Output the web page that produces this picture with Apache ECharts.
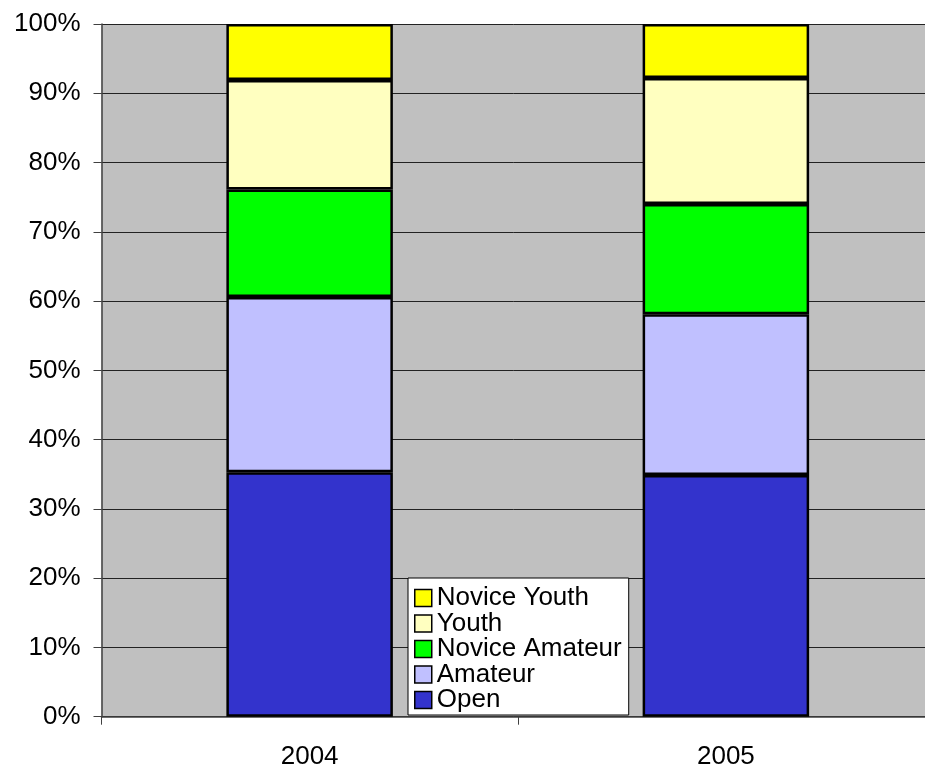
<!DOCTYPE html>
<html>
<head>
<meta charset="utf-8">
<script src="https://cdn.jsdelivr.net/npm/echarts@6/dist/echarts.min.js"></script>
<style>
  html, body { margin: 0; padding: 0; background: #fff; }
  #chart { width: 925px; height: 767px; }
</style>
</head>
<body>
<div id="chart"></div>
<script>
// share of each class per year, in percent
const years = ['2004', '2005']
const open = [35.3, 34.9]
const amateur = [25.3, 23.2]
const noviceAmateur = [15.5, 15.9]
const youth = [15.8, 18.2]
const noviceYouth = [8.1, 7.8]
const legendOrder = ['Novice Youth', 'Youth', 'Novice Amateur', 'Amateur', 'Open']

const font = '"Liberation Sans", Arial, sans-serif'

const chart = echarts.init(document.getElementById('chart'))

const makeSeries = (name, data, color) => ({
  name,
  type: 'bar',
  stack: 'total',
  barWidth: '40%',
  data,
  itemStyle: {
    color,
    borderColor: '#000',
    borderWidth: 2.5,
  },
})

chart.setOption({
  animation: false,
  // plot area runs a few px past the right edge, like the original
  grid: {
    left: 101.5,
    right: -9,
    top: 24,
    bottom: 50.3,
    outerBoundsMode: 'none',
    containLabel: false,
    show: true,
    backgroundColor: '#C0C0C0',
    borderWidth: 0,
  },
  legend: {
    data: legendOrder,
    orient: 'vertical',
    left: 408,
    top: 578,
    backgroundColor: '#fff',
    borderColor: '#000',
    borderWidth: 1,
    padding: [7, 7, 2, 6],
    itemGap: -0.5,
    itemWidth: 17,
    itemHeight: 17,
    icon: 'rect',
    textStyle: {
      fontFamily: font,
      fontSize: 26,
      color: '#000',
    },
    itemStyle: {
      borderColor: '#000',
      borderWidth: 1.5,
    },
  },
  xAxis: {
    type: 'category',
    data: years,
    axisLine: { show: true, lineStyle: { color: '#404040', width: 1.5 } },
    axisTick: { show: true, length: 8, lineStyle: { color: '#404040' } },
    axisLabel: {
      fontFamily: font,
      fontSize: 26,
      color: '#000',
      margin: 27,
    },
    splitLine: { show: false },
  },
  yAxis: {
    type: 'value',
    min: 0,
    max: 100,
    interval: 10,
    axisLine: { show: true, lineStyle: { color: '#404040', width: 1.5 } },
    axisTick: { show: true, length: 8, lineStyle: { color: '#404040' } },
    axisLabel: {
      formatter: '{value}%',
      fontFamily: font,
      fontSize: 26,
      color: '#000',
      margin: 21,
    },
    splitLine: { show: true, lineStyle: { color: '#222', width: 1 } },
  },
  series: [
    makeSeries('Open', open, '#3333CC'),
    makeSeries('Amateur', amateur, '#C0C0FF'),
    makeSeries('Novice Amateur', noviceAmateur, '#00FF00'),
    makeSeries('Youth', youth, '#FFFFC0'),
    makeSeries('Novice Youth', noviceYouth, '#FFFF00'),
  ],
})
</script>
</body>
</html>
